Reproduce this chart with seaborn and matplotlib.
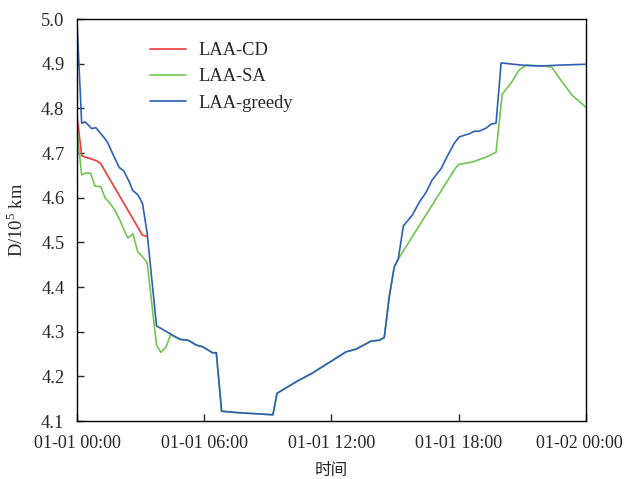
import matplotlib
matplotlib.use("Agg")
import matplotlib.pyplot as plt
import matplotlib.transforms as mtransforms
import seaborn as sns
import pandas as pd

# ---- data (hours since 01-01 00:00, D in 1e5 km) ----
greedy_h = [0.0, 0.22, 0.38, 0.53, 0.69, 0.89, 1.08, 1.24, 1.43, 1.71, 1.99, 2.21, 2.46, 2.62, 2.88,
            3.09, 3.31, 3.75, 4.38, 4.85, 5.24, 5.63, 5.94, 6.39, 6.57, 6.82, 7.52, 9.24, 9.43, 10.34,
            11.12, 12.69, 13.16, 13.87, 14.26, 14.49, 14.73, 14.96, 15.15, 15.39, 15.81, 16.14, 16.47,
            16.75, 17.18, 17.46, 17.79, 18.02, 18.26, 18.49, 18.73, 18.96, 19.29, 19.53, 19.76, 20.0,
            20.99, 21.79, 22.73, 24.0]
greedy_d = [4.994, 4.767, 4.770, 4.763, 4.755, 4.757, 4.746, 4.737, 4.725, 4.696, 4.668, 4.660, 4.636,
            4.617, 4.606, 4.587, 4.520, 4.313, 4.296, 4.283, 4.281, 4.270, 4.266, 4.253, 4.253, 4.122,
            4.119, 4.114, 4.162, 4.188, 4.208, 4.255, 4.261, 4.279, 4.281, 4.287, 4.380, 4.445, 4.463,
            4.537, 4.561, 4.590, 4.613, 4.640, 4.666, 4.693, 4.722, 4.736, 4.740, 4.743, 4.749, 4.749,
            4.756, 4.765, 4.767, 4.902, 4.897, 4.895, 4.897, 4.899]

cd_h = [0.0, 0.22, 0.60, 0.92, 1.11, 3.09, 3.31]
cd_d = [4.785, 4.694, 4.688, 4.683, 4.677, 4.516, 4.514]

sa_h = [0.0, 0.22, 0.45, 0.64, 0.85, 1.12, 1.32, 1.55, 1.79, 2.02, 2.16, 2.40, 2.64, 2.86, 3.09, 3.31,
        3.75, 3.95, 4.19, 4.41, 4.85, 5.24, 5.63, 5.94, 6.39, 6.57, 6.82, 7.52, 9.24, 9.43, 10.34,
        11.12, 12.69, 13.16, 13.87, 14.26, 14.49, 14.73, 14.96, 15.15, 17.84, 18.02, 18.64, 19.29,
        19.76, 20.05, 20.47, 20.85, 21.18, 22.10, 22.40, 22.82, 23.34, 24.0]
sa_d = [4.752, 4.651, 4.656, 4.655, 4.626, 4.625, 4.600, 4.588, 4.572, 4.550, 4.534, 4.510, 4.519,
        4.479, 4.468, 4.454, 4.270, 4.254, 4.265, 4.293, 4.283, 4.281, 4.270, 4.266, 4.253, 4.253,
        4.122, 4.119, 4.114, 4.162, 4.188, 4.208, 4.255, 4.261, 4.279, 4.281, 4.287, 4.380, 4.445,
        4.463, 4.666, 4.675, 4.680, 4.691, 4.702, 4.832, 4.857, 4.886, 4.897, 4.895, 4.892, 4.863,
        4.830, 4.803]

series_names = ["LAA-CD", "LAA-SA", "LAA-greedy"]
x_ticks = [0, 6, 12, 18, 24]
x_ticklabels = ["01-01 00:00", "01-01 06:00", "01-01 12:00", "01-01 18:00", "01-02 00:00"]
y_ticks = [4.1, 4.2, 4.3, 4.4, 4.5, 4.6, 4.7, 4.8, 4.9, 5.0]

df = pd.concat([
    pd.DataFrame({"t": cd_h, "D": cd_d, "s": series_names[0]}),
    pd.DataFrame({"t": sa_h, "D": sa_d, "s": series_names[1]}),
    pd.DataFrame({"t": greedy_h, "D": greedy_d, "s": series_names[2]}),
], ignore_index=True)

sns.set_style("ticks")
plt.rcParams["font.family"] = ["Liberation Serif", "Noto Sans CJK SC", "DejaVu Sans"]
plt.rcParams["mathtext.fontset"] = "custom"
plt.rcParams["mathtext.rm"] = "Liberation Serif"

fig = plt.figure(figsize=(6.26, 4.79), dpi=100)
ax = fig.add_axes([0.123, 0.121, 0.813, 0.839])

palette = {"LAA-CD": "#f03a3a", "LAA-SA": "#72c450", "LAA-greedy": "#2f5fb5"}
sns.lineplot(data=df, x="t", y="D", hue="s", hue_order=series_names, palette=palette,
             sort=False, estimator=None, linewidth=1.2, ax=ax)

ax.set_xlim(0, 24)
ax.set_ylim(4.1, 5.0)
ax.set_xticks(x_ticks)
ax.set_xticklabels(x_ticklabels, fontsize=13)
ax.set_yticks(y_ticks)
ax.set_yticklabels([f"{v:.1f}" for v in y_ticks], fontsize=13.3)
ax.tick_params(direction="in", length=5, width=1, top=False, right=False)
ax.tick_params(axis="x", pad=10)
ax.tick_params(axis="y", pad=9)
for sp in ax.spines.values():
    sp.set_visible(True)
    sp.set_linewidth(1.0)
    sp.set_color("black")

# keep the last date label inside the canvas (as in the reference)
last = ax.get_xticklabels()[-1]
last.set_transform(last.get_transform() + mtransforms.ScaledTranslation(-0.07, 0, fig.dpi_scale_trans))

ax.set_xlabel("时间", fontsize=12, family=["Noto Sans CJK SC"], labelpad=7)
ax.set_ylabel(r"D/10$^{5}$ km", fontsize=13.3, labelpad=10)

leg = ax.legend(loc="upper left", bbox_to_anchor=(0.143, 0.943), frameon=False, fontsize=13.3,
                handlelength=1.95, handletextpad=0.7, labelspacing=0.5, borderpad=0, borderaxespad=0)

fig.savefig("out.png", dpi=100)
